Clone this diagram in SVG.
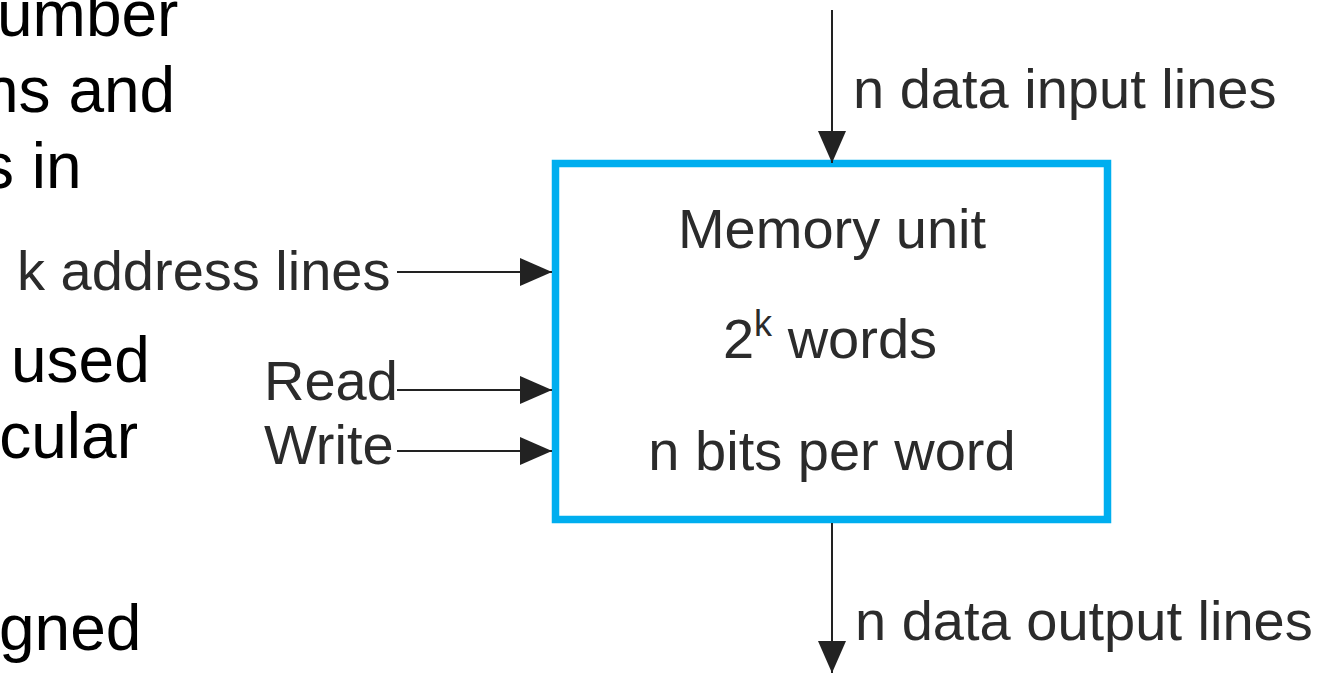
<svg xmlns="http://www.w3.org/2000/svg" width="1324" height="674" viewBox="0 0 1324 674">
<style>
.body{font-family:"Liberation Sans",Arial,sans-serif;font-size:64px;fill:#000}
.lbl{font-family:"Liberation Sans",Arial,sans-serif;font-size:56px;fill:#2b2b2b}
.wire{stroke:#222;stroke-width:2;fill:none}
.box{fill:#fff;stroke:#00aeef;stroke-width:7.5}
</style>
<defs>
<marker id="ah" markerUnits="userSpaceOnUse" markerWidth="34" markerHeight="30" refX="32" refY="14" orient="auto" viewBox="0 0 34 30">
<path d="M0,0 L32,14 L0,28 Z" fill="#222"/>
</marker>
</defs>
<g id="background-text">
<text class="body" x="-3" y="36">umber</text>
<text class="body" x="-17" y="112">ns and</text>
<text class="body" x="-18" y="188">s in</text>
<text class="body" x="11" y="382">used</text>
<text class="body" x="-15" y="458">icular</text>
<text class="body" x="-1" y="650">gned</text>
</g>
<g id="memory-unit">
<rect class="box" x="555.5" y="163.5" width="552" height="356"/>
<text class="lbl" x="832" y="248" text-anchor="middle">Memory unit</text>
<text class="lbl" x="830" y="358" text-anchor="middle">2<tspan font-size="36" dy="-22">k</tspan><tspan dy="22"> words</tspan></text>
<text class="lbl" x="832" y="470" text-anchor="middle">n bits per word</text>
</g>
<g id="label-k-address"><text class="lbl" x="17" y="290">k address lines</text></g>
<g id="label-read"><text class="lbl" x="264" y="400">Read</text></g>
<g id="label-write"><text class="lbl" x="264" y="464">Write</text></g>
<g id="label-data-in"><text class="lbl" x="853" y="108">n data input lines</text></g>
<g id="label-data-out"><text class="lbl" x="855" y="640">n data output lines</text></g>
<g id="connectors">
<line class="wire" x1="397" y1="272" x2="552" y2="272" marker-end="url(#ah)"/>
<line class="wire" x1="397" y1="390" x2="552" y2="390" marker-end="url(#ah)"/>
<line class="wire" x1="397" y1="451" x2="552" y2="451" marker-end="url(#ah)"/>
<line class="wire" x1="832" y1="10" x2="832" y2="163" marker-end="url(#ah)"/>
<line class="wire" x1="832" y1="523" x2="832" y2="673" marker-end="url(#ah)"/>
</g>
</svg>
